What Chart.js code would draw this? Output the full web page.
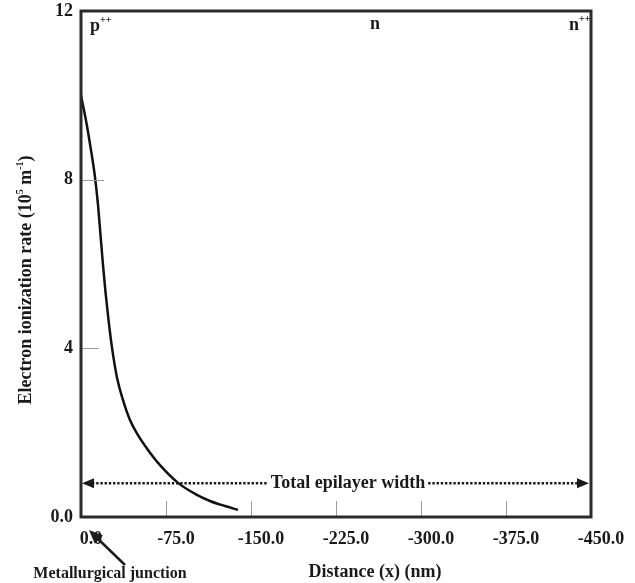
<!DOCTYPE html>
<html><head><meta charset="utf-8">
<script src="https://cdn.jsdelivr.net/npm/chart.js@4.4.0/dist/chart.umd.min.js"></script>
<style>html,body{margin:0;padding:0;background:#fff}#wrap{width:635px;height:583px}</style>
</head><body><div id="wrap"><canvas id="c" width="635" height="583"></canvas></div>
<script>
// Data
const distanceNm = [0, -4.85, -8.82, -12.35, -15.0, -17.2, -19.4, -21.6, -24.3, -27.4, -31.8, -37.1, -43.2, -50.3, -59.1, -69.7, -85.6, -100.6, -113.8, -127.1, -138.5];
const ionizationRate = [10.0, 9.34, 8.70, 8.06, 7.40, 6.69, 5.98, 5.34, 4.67, 4.01, 3.30, 2.77, 2.30, 1.94, 1.59, 1.23, 0.81, 0.55, 0.38, 0.26, 0.17];
const xTickValues = [0, -75, -150, -225, -300, -375, -450];
const yTickValues = [0, 4, 8, 12];
const yTickLabels = ['0.0', '4', '8', '12'];
const innerXTicks = [-75, -150, -225, -300, -375];
const innerYTicks = [4, 8];
const epilayerLevel = 0.8;
const junctionX = 0;

const SERIF = '"Liberation Serif", "Times New Roman", serif';
const INK = '#1a1a1a';

function drawRich(ctx, parts, x, y, size, align) {
  let total = 0;
  const widths = parts.map(p => {
    ctx.font = 'bold ' + (p.sup ? Math.round(size * 0.55) : size) + 'px ' + SERIF;
    const w = ctx.measureText(p.t).width; total += w; return w;
  });
  let cx = align === 'center' ? x - total / 2 : x;
  ctx.textAlign = 'left';
  ctx.textBaseline = 'alphabetic';
  parts.forEach((p, i) => {
    ctx.font = 'bold ' + (p.sup ? Math.round(size * 0.55) : size) + 'px ' + SERIF;
    ctx.fillText(p.t, cx, p.sup ? y - size * 0.45 : y);
    cx += widths[i];
  });
}

const decorations = {
  id: 'decorations',
  afterDraw(chart) {
    const ctx = chart.ctx, a = chart.chartArea;
    const xs = chart.scales.x, ys = chart.scales.y;
    ctx.save();
    // inner ticks
    ctx.strokeStyle = '#9a9a9a'; ctx.lineWidth = 1;
    innerXTicks.forEach(v => {
      const px = Math.round(xs.getPixelForValue(v)) + 0.5;
      ctx.beginPath(); ctx.moveTo(px, a.bottom); ctx.lineTo(px, a.bottom - 16); ctx.stroke();
    });
    innerYTicks.forEach(v => {
      const py = Math.round(ys.getPixelForValue(v)) + 0.5;
      ctx.beginPath(); ctx.moveTo(a.left, py); ctx.lineTo(a.left + (v === 8 ? 23 : 18), py); ctx.stroke();
    });
    // frame
    ctx.strokeStyle = '#2b2b2b'; ctx.lineWidth = 3;
    ctx.strokeRect(a.left, a.top, a.right - a.left, a.bottom - a.top);

    ctx.fillStyle = INK; ctx.strokeStyle = INK;
    // region labels
    drawRich(ctx, [{t:'p'}, {t:'++', sup:true}], a.left + 9, a.top + 20, 18, 'left');
    drawRich(ctx, [{t:'n'}], (a.left + a.right) / 2 + 39, a.top + 18, 18, 'center');
    drawRich(ctx, [{t:'n'}, {t:'++', sup:true}], a.right - 22, a.top + 19, 18, 'left');

    // total epilayer width
    const ey = ys.getPixelForValue(epilayerLevel);
    const x0 = xs.getPixelForValue(0), x1 = xs.getPixelForValue(-450);
    const label = 'Total epilayer width';
    ctx.font = 'bold 18px ' + SERIF;
    const lw = ctx.measureText(label).width;
    const lx = 348;
    ctx.textAlign = 'center'; ctx.textBaseline = 'alphabetic';
    ctx.fillText(label, lx, ey + 5);
    ctx.lineWidth = 2.6; ctx.setLineDash([2.4, 1.8]);
    ctx.beginPath(); ctx.moveTo(x0 + 11, ey); ctx.lineTo(lx - lw / 2 - 3, ey); ctx.stroke();
    ctx.beginPath(); ctx.moveTo(lx + lw / 2 + 3, ey); ctx.lineTo(x1 - 12, ey); ctx.stroke();
    ctx.setLineDash([]);
    ctx.beginPath(); ctx.moveTo(x0 + 1, ey); ctx.lineTo(x0 + 13, ey - 5); ctx.lineTo(x0 + 13, ey + 5); ctx.closePath(); ctx.fill();
    ctx.beginPath(); ctx.moveTo(x1 - 2, ey); ctx.lineTo(x1 - 14, ey - 5); ctx.lineTo(x1 - 14, ey + 5); ctx.closePath(); ctx.fill();

    // axis titles
    ctx.save();
    ctx.translate(25, 280);
    ctx.rotate(-Math.PI / 2);
    drawRich(ctx, [{t:'Electron ionization rate (10'}, {t:'5', sup:true}, {t:' m'}, {t:'-1', sup:true}, {t:')'}], 0, 6, 18, 'center');
    ctx.restore();
    ctx.font = 'bold 18px ' + SERIF; ctx.textAlign = 'center';
    ctx.fillText('Distance (x) (nm)', 375, 577);

    // metallurgical junction
    ctx.font = 'bold 16px ' + SERIF;
    ctx.fillText('Metallurgical junction', 110, 578);
    const jx = xs.getPixelForValue(junctionX);
    const tipX = jx + 8, tipY = a.bottom + 13;
    ctx.lineWidth = 2.5;
    ctx.beginPath(); ctx.moveTo(125, 565); ctx.lineTo(tipX + 6, tipY + 6); ctx.stroke();
    const ang = Math.atan2(565 - tipY, 125 - tipX);
    ctx.beginPath();
    ctx.moveTo(tipX, tipY);
    ctx.lineTo(tipX + 15 * Math.cos(ang - 0.4), tipY + 15 * Math.sin(ang - 0.4));
    ctx.lineTo(tipX + 15 * Math.cos(ang + 0.4), tipY + 15 * Math.sin(ang + 0.4));
    ctx.closePath(); ctx.fill();
    ctx.restore();
  }
};

new Chart(document.getElementById('c'), {
  type: 'line',
  data: {
    datasets: [{
      data: distanceNm.map((x, i) => ({ x: x, y: ionizationRate[i] })),
      borderColor: '#111', borderWidth: 2.5, pointRadius: 0,
      cubicInterpolationMode: 'monotone', fill: false
    }]
  },
  options: {
    responsive: false, animation: false, devicePixelRatio: 1,
    layout: { padding: { left: 0, top: 11, right: 44, bottom: 0 } },
    plugins: { legend: { display: false }, tooltip: { enabled: false } },
    scales: {
      x: {
        type: 'linear', reverse: true, min: -450, max: 0,
        afterBuildTicks: s => { s.ticks = xTickValues.map(v => ({ value: v })); },
        afterFit: s => { s.height = 66; s.paddingLeft = 0; s.paddingRight = 0; },
        grid: { display: false, drawTicks: false }, border: { display: false },
        ticks: {
          autoSkip: false, maxRotation: 0, minRotation: 0, padding: 12, labelOffset: 10,
          color: INK, font: { family: SERIF, size: 18, weight: 'bold' },
          callback: v => Number(v).toFixed(1)
        }
      },
      y: {
        type: 'linear', min: 0, max: 12,
        afterBuildTicks: s => { s.ticks = yTickValues.map(v => ({ value: v })); },
        afterFit: s => { s.width = 81; s.paddingTop = 0; s.paddingBottom = 0; },
        grid: { display: false, drawTicks: false }, border: { display: false },
        ticks: {
          autoSkip: false, padding: 8,
          color: INK, font: { family: SERIF, size: 18, weight: 'bold' },
          callback: v => yTickLabels[yTickValues.indexOf(v)]
        }
      }
    }
  },
  plugins: [decorations]
});
</script>
</body></html>
